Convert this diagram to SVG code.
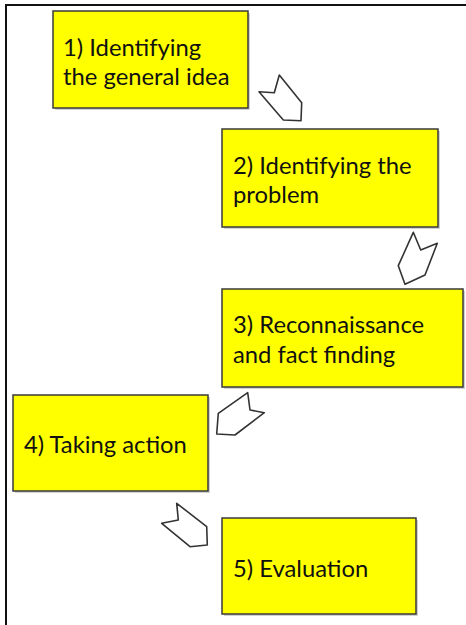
<svg xmlns="http://www.w3.org/2000/svg" width="466" height="625" viewBox="0 0 466 625">
<defs>
<style>
.box{fill:#ffff00;stroke:#3a3a3a;stroke-width:1.5}
.sh{fill:#000;opacity:0.18}
.lbl{font-family:Lato,"Open Sans",sans-serif;font-size:23.8px;fill:#111111}
.arr{fill:#ffffff;stroke:#333333;stroke-width:1.6;stroke-linejoin:round}
.frame{stroke:#111;stroke-width:2;fill:none}
</style>
</defs>
<rect width="466" height="625" fill="#ffffff"/>
<path class="frame" d="M6,625 V5 H466"/>
<g id="node1">
<rect class="sh" x="55" y="13" width="195" height="97" rx="1"/>
<rect class="box" x="53" y="11" width="195" height="97"/>
<text class="lbl" x="63" y="56">1) Identifying</text>
<text class="lbl" x="63" y="85">the general idea</text>
</g>
<g id="node2">
<rect class="sh" x="224" y="131" width="216" height="98"/>
<rect class="box" x="222" y="129" width="216" height="98"/>
<text class="lbl" x="233" y="174">2) Identifying the</text>
<text class="lbl" x="233" y="203">problem</text>
</g>
<g id="node3">
<rect class="sh" x="224" y="291" width="241" height="98"/>
<rect class="box" x="222" y="289" width="241" height="98"/>
<text class="lbl" x="233" y="333">3) Reconnaissance</text>
<text class="lbl" x="233" y="363">and fact finding</text>
</g>
<g id="node4">
<rect class="sh" x="15" y="397" width="195" height="96"/>
<rect class="box" x="13" y="395" width="195" height="96"/>
<text class="lbl" x="24" y="453">4) Taking action</text>
</g>
<g id="node5">
<rect class="sh" x="224" y="520" width="194" height="96"/>
<rect class="box" x="222" y="518" width="194" height="96"/>
<text class="lbl" x="233" y="577">5) Evaluation</text>
</g>
<g id="connectors">
<polygon class="arr" points="279.3,75 274.3,92.7 259,91.7 283.3,120 301,120.7 301.7,102.7"/>
<polygon class="arr" points="413.3,232.3 420.7,250 437.3,243.3 425,275 405,284.3 398.3,265.7"/>
<polygon class="arr" points="247.7,392.7 250,410 264.3,412.7 235,435 216.7,434 218.3,413.3"/>
<polygon class="arr" points="176.7,503.3 178.3,520 161.7,523.3 190,546.7 207.3,545 206.7,526.7"/>
</g>
</svg>
